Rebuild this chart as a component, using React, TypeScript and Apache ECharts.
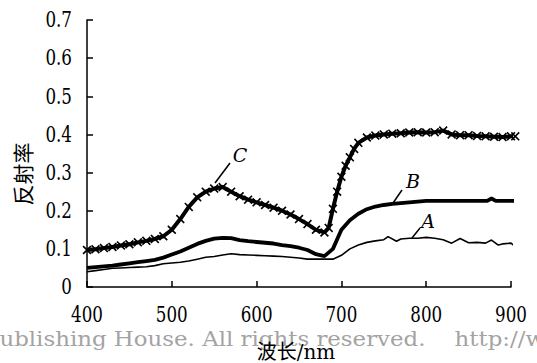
import React, { useEffect, useRef } from "react";
import * as echarts from "echarts";

// wavelengths (nm) and reflectance values
const wavelengthsC = [400, 410, 420, 430, 440, 450, 460, 470, 480, 490, 500, 510, 520, 530, 540, 550, 560, 570, 580, 590, 600, 610, 620, 630, 640, 650, 660, 670, 680, 685, 690, 695, 700, 705, 710, 715, 720, 730, 740, 750, 760, 770, 780, 790, 800, 810, 820, 830, 840, 850, 860, 870, 880, 890, 900, 905];
const reflectanceC = [0.097, 0.099, 0.102, 0.105, 0.109, 0.112, 0.117, 0.121, 0.126, 0.133, 0.15, 0.178, 0.21, 0.235, 0.25, 0.258, 0.262, 0.25, 0.238, 0.229, 0.222, 0.215, 0.208, 0.2, 0.19, 0.178, 0.165, 0.15, 0.143, 0.155, 0.205, 0.25, 0.289, 0.318, 0.34, 0.362, 0.378, 0.392, 0.397, 0.4, 0.402, 0.403, 0.405, 0.406, 0.405, 0.406, 0.41, 0.4, 0.398, 0.398, 0.396, 0.395, 0.394, 0.393, 0.395, 0.395];

const wavelengthsB = [400, 410, 420, 430, 440, 450, 460, 470, 480, 490, 500, 510, 520, 530, 540, 550, 560, 570, 580, 590, 600, 610, 620, 630, 640, 650, 660, 670, 680, 690, 700, 710, 720, 730, 740, 750, 760, 770, 780, 790, 800, 820, 840, 860, 872, 877, 882, 890, 900, 905];
const reflectanceB = [0.05, 0.052, 0.054, 0.056, 0.059, 0.062, 0.065, 0.068, 0.071, 0.077, 0.085, 0.093, 0.103, 0.113, 0.121, 0.127, 0.129, 0.128, 0.123, 0.12, 0.118, 0.116, 0.114, 0.11, 0.107, 0.103, 0.097, 0.086, 0.081, 0.1, 0.15, 0.175, 0.192, 0.204, 0.211, 0.215, 0.218, 0.22, 0.222, 0.224, 0.226, 0.226, 0.226, 0.226, 0.226, 0.232, 0.226, 0.226, 0.226, 0.226];

const wavelengthsA = [400, 410, 420, 430, 440, 450, 460, 470, 480, 490, 500, 510, 520, 530, 540, 550, 560, 570, 580, 590, 600, 610, 620, 630, 640, 650, 660, 670, 680, 690, 700, 710, 720, 730, 740, 750, 755, 765, 770, 780, 790, 800, 810, 820, 830, 840, 850, 860, 870, 877, 885, 890, 900, 903, 905];
const reflectanceA = [0.04, 0.043, 0.046, 0.049, 0.05, 0.051, 0.052, 0.053, 0.056, 0.061, 0.063, 0.065, 0.068, 0.073, 0.078, 0.08, 0.084, 0.087, 0.085, 0.084, 0.083, 0.082, 0.081, 0.08, 0.078, 0.076, 0.073, 0.073, 0.073, 0.073, 0.083, 0.1, 0.11, 0.117, 0.121, 0.124, 0.132, 0.12, 0.126, 0.128, 0.128, 0.13, 0.128, 0.124, 0.115, 0.127, 0.116, 0.117, 0.115, 0.123, 0.11, 0.113, 0.115, 0.11, 0.088];

const xTicks = [400, 500, 600, 700, 800, 900];
const yTicks = [0, 0.1, 0.2, 0.3, 0.4, 0.5, 0.6, 0.7];
const yTickLabels = ["0", "0.1", "0.2", "0.3", "0.4", "0.5", "0.6", "0.7"];

const seriesNames = ["A", "B", "C"];
const xAxisName = "波长/nm";
const yAxisName = "反射率";
const watermark = "Publishing House. All rights reserved.    http://www.cnki.net";

const serif = "DejaVu Serif";
const cjk = "Noto Sans CJK SC";

const crossPath =
  "path://M0,1.3L1.3,0L5,3.7L8.7,0L10,1.3L6.3,5L10,8.7L8.7,10L5,6.3L1.3,10L0,8.7L3.7,5Z";

function pairs(xs: number[], ys: number[]) {
  return xs.map((x, i) => [x, ys[i]]);
}

export default function App() {
  const ref = useRef<HTMLDivElement>(null);
  useEffect(() => {
    if (!ref.current) return;
    const chart = echarts.init(ref.current, undefined, { renderer: "svg" });
    chart.setOption({
      animation: false,
      backgroundColor: "#ffffff",
      grid: { left: 87, right: 26, top: 20, bottom: 76 },
      xAxis: {
        type: "value",
        min: xTicks[0],
        max: xTicks[xTicks.length - 1],
        interval: 100,
        axisLine: { show: true, lineStyle: { color: "#000", width: 1.5 } },
        axisTick: { show: true, inside: true, length: 6, lineStyle: { color: "#000", width: 1.5 } },
        axisLabel: { show: false },
        splitLine: { show: false },
      },
      yAxis: {
        type: "value",
        min: yTicks[0],
        max: yTicks[yTicks.length - 1],
        interval: 0.1,
        axisLine: { show: true, lineStyle: { color: "#000", width: 1.5 } },
        axisTick: { show: true, inside: true, length: 6, lineStyle: { color: "#000", width: 1.5 } },
        axisLabel: { show: false },
        splitLine: { show: false },
      },
      series: [
        {
          name: seriesNames[0],
          type: "line",
          data: pairs(wavelengthsA, reflectanceA),
          showSymbol: false,
          clip: false,
          lineStyle: { color: "#000", width: 1.6 },
          z: 3,
        },
        {
          name: seriesNames[1],
          type: "line",
          data: pairs(wavelengthsB, reflectanceB),
          showSymbol: false,
          clip: false,
          lineStyle: { color: "#000", width: 3.8 },
          z: 4,
        },
        {
          name: seriesNames[2],
          type: "line",
          data: pairs(wavelengthsC, reflectanceC),
          showSymbol: true,
          symbol: crossPath,
          symbolSize: 9,
          clip: false,
          itemStyle: { color: "#000" },
          lineStyle: { color: "#000", width: 4 },
          z: 5,
        },
      ],
    });

    // tick labels placed at the axis' own pixel positions, condensed like the print
    const labelEls: any[] = [];
    xTicks.forEach((v) => {
      const [px, py] = chart.convertToPixel({ gridIndex: 0 }, [v, yTicks[0]]) as number[];
      labelEls.push({
        type: "text",
        x: px,
        y: py + 28,
        scaleX: 0.76,
        style: { text: String(v), font: `22px ${serif}`, fill: "#000", align: "center", verticalAlign: "middle" },
      });
    });
    yTicks.forEach((v, i) => {
      const [px, py] = chart.convertToPixel({ gridIndex: 0 }, [xTicks[0], v]) as number[];
      labelEls.push({
        type: "text",
        x: px - 15,
        y: py,
        scaleX: 0.76,
        style: { text: yTickLabels[i], font: `22px ${serif}`, fill: "#000", align: "right", verticalAlign: "middle" },
      });
    });

    chart.setOption({
      graphic: [
        ...labelEls,
        {
          type: "text",
          x: 22,
          y: 174,
          rotation: Math.PI / 2,
          style: { text: yAxisName, font: `21px ${cjk}`, fill: "#000", align: "center", verticalAlign: "middle" },
        },
        {
          type: "text",
          x: -16,
          y: 339,
          scaleX: 1.09,
          z: 0,
          style: { text: watermark, font: `21px ${serif}`, fill: "#a3a3a3", align: "left", verticalAlign: "middle" },
        },
        {
          type: "text",
          x: 296,
          y: 352,
          z: 10,
          style: { text: xAxisName, font: `20px ${serif}, ${cjk}`, fill: "#000", align: "center", verticalAlign: "middle" },
        },
        // annotation labels
        { type: "line", shape: { x1: 215, y1: 183, x2: 230, y2: 163 }, style: { stroke: "#000", lineWidth: 1.5 } },
        {
          type: "text",
          x: 240,
          y: 155,
          style: { text: seriesNames[2], font: `italic 19px ${serif}`, fill: "#000", align: "center", verticalAlign: "middle" },
        },
        { type: "line", shape: { x1: 393, y1: 203, x2: 402, y2: 190 }, style: { stroke: "#000", lineWidth: 1.5 } },
        {
          type: "text",
          x: 413,
          y: 181,
          style: { text: seriesNames[1], font: `italic 19px ${serif}`, fill: "#000", align: "center", verticalAlign: "middle" },
        },
        { type: "line", shape: { x1: 412, y1: 238, x2: 420, y2: 228 }, style: { stroke: "#000", lineWidth: 1.5 } },
        {
          type: "text",
          x: 428,
          y: 221,
          style: { text: seriesNames[0], font: `italic 19px ${serif}`, fill: "#000", align: "center", verticalAlign: "middle" },
        },
      ],
    });
    return () => chart.dispose();
  }, []);
  return (
    <div
      ref={ref}
      style={{ width: 537, height: 363, position: "fixed", left: 0, top: 0, background: "#fff" }}
    />
  );
}
